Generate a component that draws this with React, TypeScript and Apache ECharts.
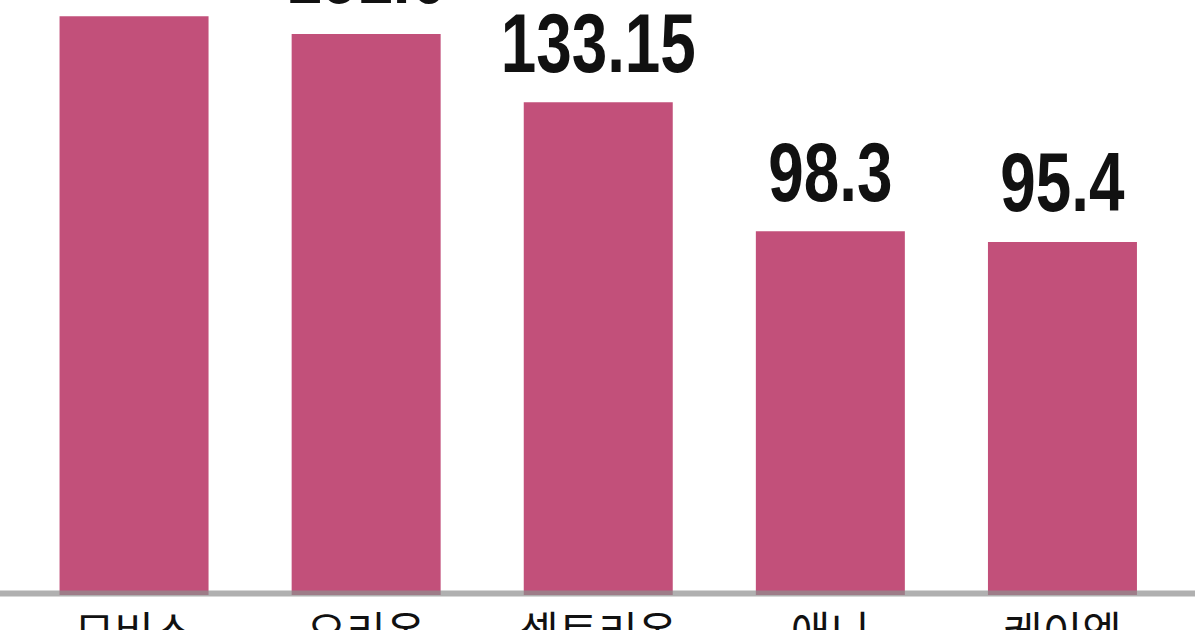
import React, { useEffect, useRef } from "react";
import * as echarts from "echarts";

const categories = ["모비스", "오리온", "셀트리온", "애니", "케이엠"];
const values = [156.4, 151.6, 133.15, 98.3, 95.4];
const valueLabels = ["156.4", "151.6", "133.15", "98.3", "95.4"];

export default function App() {
  const ref = useRef<HTMLDivElement>(null);
  useEffect(() => {
    document.body.style.margin = "0";
    const chart = echarts.init(ref.current!, null, { renderer: "svg" });
    chart.setOption({
      animation: false,
      backgroundColor: "#ffffff",
      grid: {
        left: 18,
        right: 21.5,
        top: 3,
        bottom: 35,
        containLabel: false,
        outerBoundsMode: "none",
      },
      xAxis: {
        type: "category",
        data: categories,
        axisLine: { show: false },
        axisTick: { show: false },
        axisLabel: {
          interval: 0,
          margin: 12,
          color: "#111",
          fontSize: 43,
          fontFamily: "Noto Sans CJK KR",
          verticalAlign: "top",
        },
      },
      yAxis: {
        type: "value",
        min: 0,
        max: 160,
        show: false,
        splitLine: { show: false },
      },
      series: [
        {
          type: "bar",
          data: values,
          barWidth: 149,
          itemStyle: { color: "#c2507a" },
        },
        {
          type: "custom",
          coordinateSystem: "cartesian2d",
          silent: true,
          z: 10,
          data: values.map((v, i) => [i, v]),
          encode: { x: 0, y: 1 },
          renderItem: (params: any, api: any) => {
            const pt = api.coord([api.value(0), api.value(1)]);
            return {
              type: "text",
              x: pt[0],
              y: pt[1] - 18,
              scaleX: 0.76,
              style: {
                x: 0,
                y: 0,
                text: valueLabels[params.dataIndex],
                align: "center",
                verticalAlign: "bottom",
                fontSize: 84,
                fontWeight: "bold",
                fontFamily: "Liberation Sans, Arial, sans-serif",
                fill: "#111",
              },
            };
          },
        },
      ],
      graphic: [
        {
          type: "line",
          z: 100,
          shape: { x1: 0, y1: 593.5, x2: 1195, y2: 593.5 },
          style: { stroke: "#8e8e8e", lineWidth: 6, opacity: 0.7 },
        },
      ],
    });
    return () => chart.dispose();
  }, []);
  return <div ref={ref} style={{ width: 1200, height: 630 }} />;
}
